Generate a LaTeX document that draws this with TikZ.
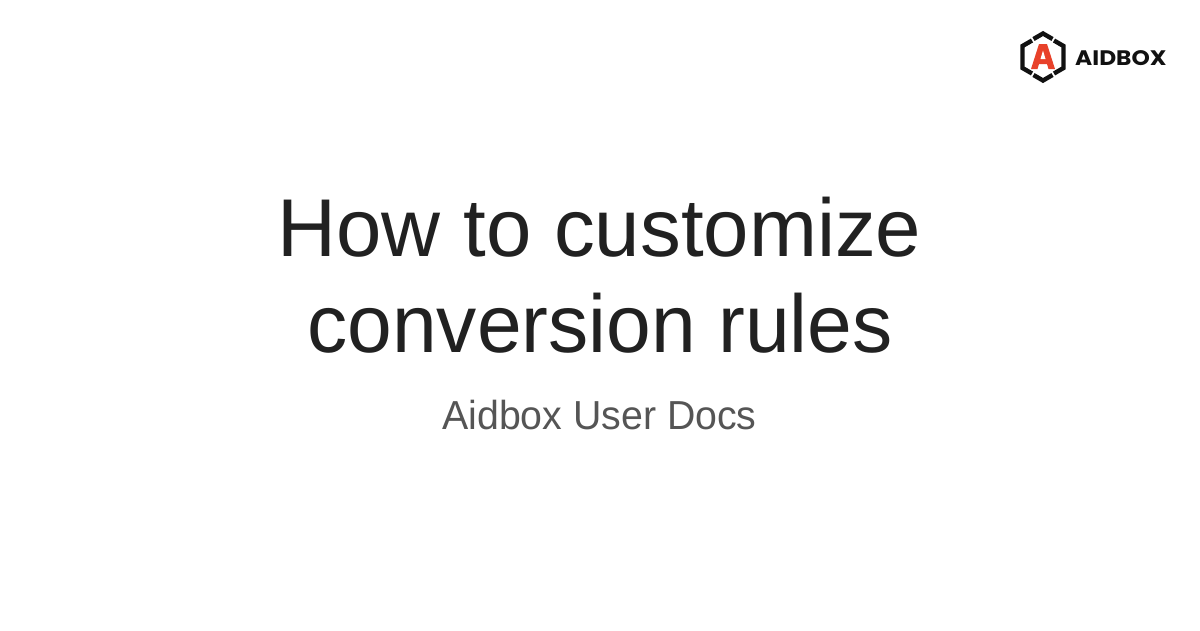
\documentclass[tikz,border=0pt]{standalone}
\usepackage{fontspec}
\usepackage{graphicx}
\setmainfont{Liberation Sans}
\newfontfamily\bodyfont{Liberation Sans}
\newfontfamily\logofont{Poppins}
\definecolor{titlec}{HTML}{212121}
\definecolor{subc}{HTML}{555555}
\definecolor{logored}{HTML}{E8412A}
\definecolor{logoblack}{HTML}{111111}
\begin{document}
\begin{tikzpicture}[x=1pt,y=-1pt]
\useasboundingbox (0,0) rectangle (1200,630);
\fill[white] (0,0) rectangle (1200,630);
\tikzset{titletext/.style={text=titlec,font=\bodyfont\fontsize{82}{96}\selectfont,inner sep=0pt,anchor=base},
subtext/.style={text=subc,font=\bodyfont\fontsize{40.5}{48}\selectfont,inner sep=0pt,anchor=base},
hexline/.style={draw=logoblack,line width=4.4pt,line join=miter,line cap=butt}}
\node[titletext] (t1) at (599.5,256) {\scalebox{0.995}[1]{How to customize}};
\node[titletext] (t2) at (600,352) {\scalebox{0.98}[1]{conversion rules}};
\node[subtext] (s) at (599.5,429.5) {\scalebox{0.97}[1]{Aidbox User Docs}};
\path[hexline] (1033.5,39) -- (1043,33.5) -- (1052.5,39);
\path[hexline] (1032,40.5) -- (1022.5,46) -- (1022.5,68) -- (1032,73.5);
\path[hexline] (1054,40.5) -- (1063.5,46) -- (1063.5,68) -- (1054,73.5);
\path[hexline] (1033.5,75) -- (1043,80.5) -- (1052.5,75);
\fill[logored] (1039,44) -- (1047,44) -- (1055,69) -- (1048.5,69) -- (1047,64) -- (1039,64) -- (1037.5,69) -- (1031,69) -- cycle;
\fill[white] (1043,50.5) -- (1045.5,59) -- (1040.5,59) -- cycle;
\node[inner sep=0pt,anchor=base west,text=logoblack,font=\logofont\bfseries\fontsize{21}{24}\selectfont] (l) at (1075,65) {\scalebox{1.11}[1]{AIDBOX}};
\end{tikzpicture}
\end{document}
